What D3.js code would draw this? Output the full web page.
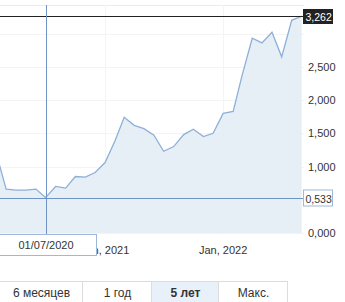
<!DOCTYPE html>
<html>
<head>
<meta charset="utf-8">
<script src="https://cdn.jsdelivr.net/npm/d3@7"></script>
<style>
  body { margin: 0; background: #fff; font-family: Arial, "Liberation Sans", sans-serif; }
  #chart { width: 345px; height: 302px; overflow: hidden; }
</style>
</head>
<body>
<div id="chart"></div>
<script>
// Monthly values (first of month)
const months = ['2020-02','2020-03','2020-04','2020-05','2020-06','2020-07','2020-08','2020-09',
    '2020-10','2020-11','2020-12','2021-01','2021-02','2021-03','2021-04','2021-05','2021-06',
    '2021-07','2021-08','2021-09','2021-10','2021-11','2021-12','2022-01','2022-02','2022-03',
    '2022-04','2022-05','2022-06','2022-07','2022-08','2022-09'];
const values = [1.17, 0.66, 0.645, 0.645, 0.66, 0.533, 0.70, 0.675,
    0.85, 0.84, 0.91, 1.06, 1.39, 1.74, 1.62, 1.57, 1.47,
    1.23, 1.30, 1.48, 1.56, 1.45, 1.50, 1.80, 1.83, 2.38,
    2.93, 2.86, 3.02, 2.65, 3.20, 3.262];
const gridTicks = [0, 0.5, 1, 1.5, 2, 2.5, 3];
// labels that stay visible (0,500 and 3,000 are hidden behind the value boxes)
const yTicks = [0, 1, 1.5, 2, 2.5];
const xTicks = ['2021-01', '2022-01'];
const lastValue = 3.262;
const hoverDate = '2020-07';
const hoverValue = 0.533;
const hoverLabel = '01/07/2020';
const ranges = ['6 месяцев', '1 год', '5 лет', 'Макс.'];
const activeRange = '5 лет';

const parse = d3.timeParse('%Y-%m');
const data = months.map((m, i) => ({ date: parse(m), value: values[i] }));
const fmt = v => d3.format('.3f')(v).replace('.', ',');

const width = 345, height = 302;
const plotLeft = 0, plotRight = 304, plotTop = 5, plotBottom = 233;

const svg = d3.select('#chart').append('svg')
    .attr('width', width)
    .attr('height', height);

const x = d3.scaleTime()
    .domain([new Date(2020, 1, 11), new Date(2022, 8, 8)])
    .range([plotLeft, plotRight]);

const y = d3.scaleLinear()
    .domain([0, 3.43])
    .range([plotBottom, plotTop]);

svg.append('defs').append('clipPath').attr('id', 'clip')
    .append('rect')
    .attr('x', plotLeft).attr('y', plotTop)
    .attr('width', plotRight - plotLeft).attr('height', plotBottom - plotTop);

// Top border of the plot
svg.append('line')
    .attr('x1', plotLeft).attr('x2', plotRight)
    .attr('y1', plotTop + 0.5).attr('y2', plotTop + 0.5)
    .attr('stroke', '#ececec');

// Grid
svg.append('g')
    .selectAll('line')
    .data(gridTicks)
    .join('line')
    .attr('x1', plotLeft).attr('x2', plotRight)
    .attr('y1', d => Math.round(y(d)) + 0.5)
    .attr('y2', d => Math.round(y(d)) + 0.5)
    .attr('stroke', '#f4f4f4');

svg.append('g')
    .selectAll('line')
    .data(xTicks.map(parse))
    .join('line')
    .attr('x1', d => Math.round(x(d)) + 0.5)
    .attr('x2', d => Math.round(x(d)) + 0.5)
    .attr('y1', plotTop).attr('y2', plotBottom)
    .attr('stroke', '#f4f4f4');

// Area + line
const plot = svg.append('g').attr('clip-path', 'url(#clip)');

plot.append('path')
    .datum(data)
    .attr('fill', '#e3ecf5')
    .attr('fill-opacity', 0.85)
    .attr('d', d3.area().x(d => x(d.date)).y0(plotBottom).y1(d => y(d.value)));

plot.append('path')
    .datum(data)
    .attr('fill', 'none')
    .attr('stroke', '#8eafd8')
    .attr('stroke-width', 1.3)
    .attr('d', d3.line().x(d => x(d.date)).y(d => y(d.value)));

// Last value line
const yLast = Math.round(y(lastValue)) + 0.5;
svg.append('line')
    .attr('x1', plotLeft).attr('x2', plotRight)
    .attr('y1', yLast).attr('y2', yLast)
    .attr('stroke', '#222')
    .attr('stroke-width', 1);

// Crosshair
const hx = Math.round(x(parse(hoverDate))) + 0.5;
const hy = Math.round(y(hoverValue)) + 0.5;
svg.append('line')
    .attr('x1', hx).attr('x2', hx)
    .attr('y1', plotTop).attr('y2', plotBottom + 2)
    .attr('stroke', '#6f93c4');
svg.append('line')
    .attr('x1', plotLeft).attr('x2', plotRight)
    .attr('y1', hy).attr('y2', hy)
    .attr('stroke', '#6f93c4');

// Y axis labels
svg.append('g')
    .selectAll('text')
    .data(yTicks)
    .join('text')
    .attr('x', 308)
    .attr('y', d => y(d) + 4)
    .attr('font-size', 11)
    .attr('fill', '#333')
    .text(fmt);

// X axis labels
svg.append('g')
    .selectAll('text')
    .data(xTicks.map(parse))
    .join('text')
    .attr('x', d => x(d))
    .attr('y', 254)
    .attr('text-anchor', 'middle')
    .attr('font-size', 11)
    .attr('fill', '#333')
    .text(d3.timeFormat('%b, %Y'));

// Value box for crosshair
svg.append('rect')
    .attr('x', 303.5).attr('y', hy - 8.5)
    .attr('width', 29).attr('height', 16)
    .attr('fill', '#fff')
    .attr('stroke', '#9db8da');
svg.append('text')
    .attr('x', 305.5).attr('y', hy + 4)
    .attr('font-size', 10.5)
    .attr('fill', '#333')
    .text(fmt(hoverValue));

// Last value box
svg.append('rect')
    .attr('x', 303).attr('y', yLast - 7.5)
    .attr('width', 30).attr('height', 15)
    .attr('fill', '#222');
svg.append('text')
    .attr('x', 305.5).attr('y', yLast + 4)
    .attr('font-size', 10.5)
    .attr('fill', '#fff')
    .text(fmt(lastValue));

// Date box
svg.append('rect')
    .attr('x', -1).attr('y', 234.5)
    .attr('width', 97.5).attr('height', 21)
    .attr('fill', '#fff')
    .attr('stroke', '#9db8da');
svg.append('text')
    .attr('x', 46).attr('y', 249)
    .attr('text-anchor', 'middle')
    .attr('font-size', 11)
    .attr('fill', '#333')
    .text(hoverLabel);

// Range buttons
const btnEdges = [-1, 82, 151, 218, 287];
const buttons = svg.append('g')
    .selectAll('g')
    .data(ranges)
    .join('g');

buttons.append('rect')
    .attr('x', (d, i) => btnEdges[i] + 0.5)
    .attr('y', 281.5)
    .attr('width', (d, i) => btnEdges[i + 1] - btnEdges[i])
    .attr('height', 30)
    .attr('fill', d => d === activeRange ? '#e8f0fa' : '#fff')
    .attr('stroke', '#dcdcdc');

buttons.append('text')
    .attr('x', (d, i) => (btnEdges[i] + btnEdges[i + 1]) / 2 + 1)
    .attr('y', 297)
    .attr('text-anchor', 'middle')
    .attr('font-size', 12)
    .attr('font-weight', d => d === activeRange ? 'bold' : 'normal')
    .attr('fill', '#333')
    .text(d => d);
</script>
</body>
</html>
